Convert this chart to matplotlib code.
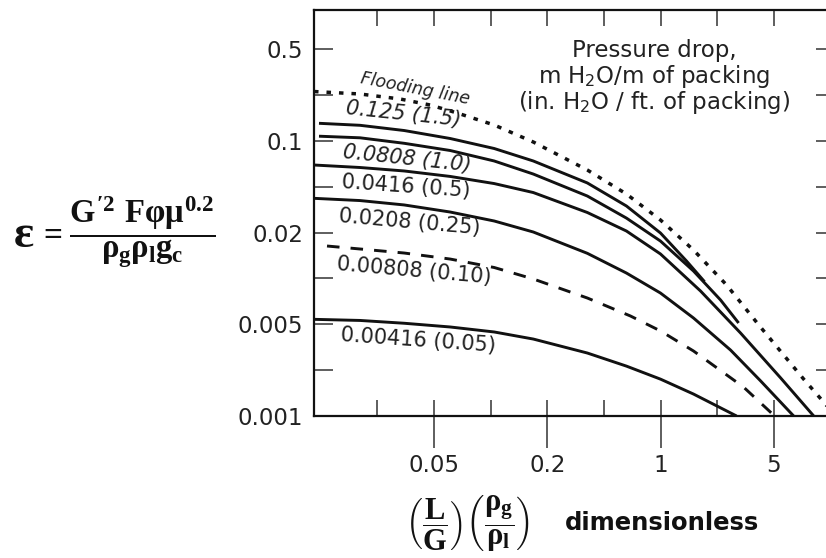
import numpy as np
import matplotlib
matplotlib.use("Agg")
import matplotlib.pyplot as plt

plt.rcParams['font.family'] = ['DejaVu Sans']
plt.rcParams['mathtext.fontset'] = 'custom'
plt.rcParams['mathtext.rm'] = 'Liberation Serif:bold'
plt.rcParams['mathtext.it'] = 'Liberation Serif:bold'
plt.rcParams['mathtext.bf'] = 'Liberation Serif:bold'

# ---------------- data ----------------
x_ticks = [0.05, 0.2, 1, 5]
x_tick_labels = ["0.05", "0.2", "1", "5"]
x_minor_ticks = [0.02236, 0.05, 0.1, 0.2, 0.4472, 1, 2.236, 5, 11.18]
y_ticks = [0.001, 0.005, 0.02, 0.1, 0.5]
y_tick_labels = ["0.001", "0.005", "0.02", "0.1", "0.5"]
y_minor_ticks = [0.002236, 0.01, 0.04472, 0.2236]

flood_x = [0.00912, 0.01753, 0.03096, 0.04744, 0.06651, 0.1046, 0.1687, 0.3536,
           0.616, 0.9986, 1.596, 2.553, 4.081, 7.628, 11.86]
flood_y = [0.2379, 0.2278, 0.2087, 0.1878, 0.1632, 0.1322, 0.0981, 0.0600,
           0.03937, 0.02495, 0.01537, 0.00906, 0.00485, 0.00191, 0.00102]

x_125 = [0.00979, 0.01753, 0.03279, 0.06105, 0.1046, 0.1687, 0.3536, 0.616, 0.9986, 1.445, 1.867]
y_125 = [0.1362, 0.1315, 0.1200, 0.1043, 0.0875, 0.0703, 0.0478, 0.0319, 0.01988, 0.01302, 0.00952]

x_0808 = [0.00979, 0.01753, 0.03279, 0.06105, 0.1046, 0.1687, 0.3536, 0.616, 0.9986, 1.596, 2.344, 3.028]
y_0808 = [0.1086, 0.1056, 0.0959, 0.0845, 0.0703, 0.0559, 0.0380, 0.0258, 0.0176, 0.01119, 0.00722, 0.0051]

x_0416 = [0.00912, 0.01753, 0.03279, 0.06105, 0.1046, 0.1687, 0.3536, 0.616, 0.9986, 1.764, 3.113, 5.501, 8.797]
y_0416 = [0.0655, 0.0627, 0.0590, 0.0536, 0.0473, 0.0404, 0.02846, 0.02056, 0.01448, 0.00827, 0.00429, 0.00195, 0.001]

x_0208 = [0.00912, 0.01753, 0.03279, 0.06105, 0.1046, 0.1687, 0.3536, 0.616, 0.9986, 1.596, 2.702, 4.140, 6.616]
y_0208 = [0.0365, 0.0351, 0.0325, 0.0287, 0.02452, 0.02021, 0.01462, 0.01085, 0.00802, 0.0055, 0.00318, 0.00185, 0.001]

x_00808 = [0.01097, 0.01753, 0.03279, 0.06105, 0.1046, 0.1687, 0.3536, 0.6518, 0.9986, 1.596, 3.25, 5.05]
y_00808 = [0.01633, 0.01561, 0.01469, 0.01341, 0.0118, 0.00992, 0.00744, 0.00567, 0.00445, 0.00313, 0.00166, 0.001]

x_00416 = [0.00912, 0.01753, 0.03279, 0.06105, 0.1046, 0.1687, 0.3536, 0.616, 0.9986, 1.596, 2.942]
y_00416 = [0.00539, 0.0053, 0.00508, 0.00477, 0.00437, 0.00386, 0.00302, 0.0024, 0.00191, 0.00147, 0.001]

curve_labels = ["0.125 (1.5)", "0.0808 (1.0)", "0.0416 (0.5)",
                "0.0208 (0.25)", "0.00808 (0.10)", "0.00416 (0.05)"]
flood_label = "Flooding line"
title_lines = ["Pressure drop,", "m H$_2$O/m of packing", "(in. H$_2$O / ft. of packing)"]

# scale knots (chart uses equal spacing between labelled values)
x_knots = [0.002, 0.01, 0.05, 0.2, 1, 5, 25]
y_knots = [0.0002, 0.001, 0.005, 0.02, 0.1, 0.5, 2.5]


def make_scale(knots):
    lk = np.log10(np.asarray(knots, float))
    idx = np.arange(len(knots), dtype=float)

    def fwd(v):
        v = np.asarray(v, float)
        with np.errstate(divide='ignore', invalid='ignore'):
            l = np.log10(np.where(v > 0, v, np.nan))
        out = np.interp(l, lk, idx)
        out = np.where(l < lk[0], (l - lk[0]) / (lk[1] - lk[0]), out)
        out = np.where(l > lk[-1], idx[-1] + (l - lk[-1]) / (lk[-1] - lk[-2]), out)
        return out

    def inv(p):
        p = np.asarray(p, float)
        l = np.interp(p, idx, lk)
        l = np.where(p < 0, lk[0] + p * (lk[1] - lk[0]), l)
        l = np.where(p > idx[-1], lk[-1] + (p - idx[-1]) * (lk[-1] - lk[-2]), l)
        return 10.0 ** l

    return fwd, inv


W, H = 826, 558
fig = plt.figure(figsize=(W / 100, H / 100), dpi=100)
fig.patch.set_facecolor('white')

ax_l, ax_r, ax_t, ax_b = 314, 835, 10, 416
ax = fig.add_axes([ax_l / W, 1 - ax_b / H, (ax_r - ax_l) / W, (ax_b - ax_t) / H])
ax.set_xscale('function', functions=make_scale(x_knots))
ax.set_yscale('function', functions=make_scale(y_knots))
ax.set_xlim(0.00912, 11.9)
ax.set_ylim(0.001, 0.995)

lc = '#111111'
lw = 2.1
kw = dict(color=lc, lw=lw, solid_capstyle='butt', solid_joinstyle='round')
ax.plot(x_125, y_125, **kw)
ax.plot(x_0808, y_0808, **kw)
ax.plot(x_0416, y_0416, **kw)
ax.plot(x_0208, y_0208, **kw)
ax.plot(x_00808, y_00808, color=lc, lw=lw, linestyle=(0, (4.3, 3.8)), dash_capstyle='butt')
ax.plot(x_00416, y_00416, **kw)
ax.plot(flood_x, flood_y, color=lc, lw=2.5, linestyle=(0, (1.3, 2.3)), dash_capstyle='butt')

for s in ax.spines.values():
    s.set_linewidth(1.6)
    s.set_color('#111111')

ax.set_xticks(x_ticks, labels=x_tick_labels)
ax.set_xticks(x_minor_ticks, minor=True)
ax.xaxis.remove_overlapping_locs = False
ax.set_yticks(y_ticks, labels=y_tick_labels)
ax.set_yticks(y_minor_ticks, minor=True)
ax.xaxis.set_minor_formatter(plt.NullFormatter())
ax.yaxis.set_minor_formatter(plt.NullFormatter())

tc = '#333333'
ax.tick_params(axis='x', which='minor', direction='in', length=11.5, width=1.1,
               top=True, bottom=True, color=tc)
ax.tick_params(axis='x', which='major', direction='out', length=23, width=1.1,
               top=False, bottom=True, color=tc, labelsize=16.5, pad=4, labelcolor='#222222')
ax.tick_params(axis='y', which='both', direction='in', length=13.7, width=1.1,
               left=True, right=True, color=tc)
ax.tick_params(axis='y', which='major', labelsize=16.5, pad=8, labelcolor='#222222')


def fx(px):
    return px / W


def fy(py):
    return 1 - py / H


# title block
for txt, yy in zip(title_lines, [50, 77, 102]):
    fig.text(fx(654), fy(yy), txt, ha='center', va='center', fontsize=16.5,
             color='#222222', math_fontfamily='dejavusans')

# curve labels
label_pos = [(403, 114, -6, 'italic'), (407, 159, -6, 'italic'), (406, 187, -4, 'normal'),
             (410, 222, -5, 'normal'), (414, 271, -5, 'normal'), (418, 340, -4, 'normal')]
for txt, (px, py, rot, st) in zip(curve_labels, label_pos):
    fig.text(fx(px), fy(py), txt, ha='center', va='center', fontsize=15,
             rotation=rot, rotation_mode='anchor', style=st, color='#222222')
fig.text(fx(415), fy(89), flood_label, ha='center', va='center', fontsize=12.5,
         rotation=-11, rotation_mode='anchor', style='italic', color='#222222')

# y-axis formula
fig.text(fx(24), fy(234), r'$\varepsilon$', ha='center', va='center',
         fontsize=34, color='#111111')
fig.text(fx(50), fy(233), r'$=$', ha='center', va='center',
         fontsize=24, color='#111111')
fig.text(fx(142), fy(232),
         r'$\dfrac{G^{\prime 2}\ F\varphi\mu^{0.2}}{\rho_{g}\rho_{l}g_{c}}$',
         ha='center', va='center', fontsize=23.5, color='#111111')

# x-axis label
fig.text(fx(468), fy(524),
         r'$\left(\dfrac{L}{G}\right)\left(\dfrac{\rho_{g}}{\rho_{l}}\right)$',
         ha='center', va='center', fontsize=22, color='#111111')
fig.text(fx(662), fy(523), 'dimensionless', ha='center', va='center',
         fontsize=17.5, fontweight='bold', color='#111111')

fig.savefig('out.png', dpi=100, facecolor='white')
